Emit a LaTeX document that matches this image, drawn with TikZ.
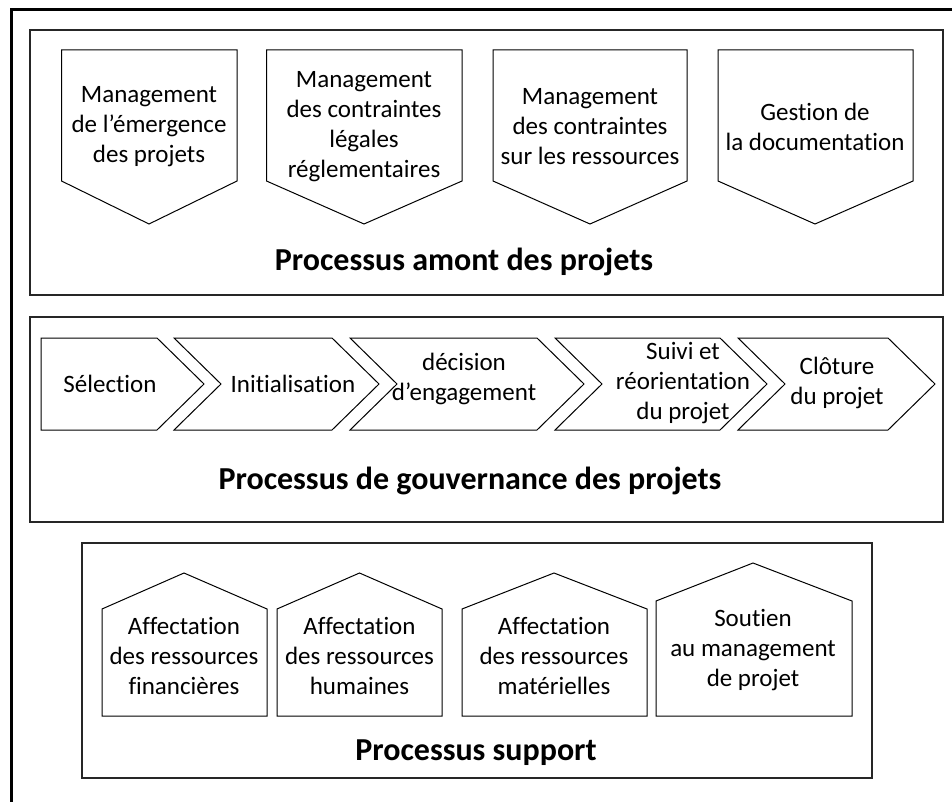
\documentclass[tikz,border=0pt]{standalone}
\usepackage{fontspec}
\setmainfont{Carlito}[Ligatures=NoCommon]
\usepackage{tikz}
\usetikzlibrary{positioning}

\begin{document}
\begin{tikzpicture}[
    x=0.5pt,y=-0.5pt,
    frame/.style={draw=black!85,line width=0.6pt},
    tag/.style={draw=black,line width=0.5pt,line join=miter},
    lbl/.style={align=center,inner sep=0pt,font=\fontsize{12.5}{15}\selectfont},
    ttl/.style={inner sep=0pt,font=\fontsize{16}{19}\selectfont\bfseries},
]
    \useasboundingbox (0,0) rectangle (952,802);
    % outer frame, cut at the page edge
    \draw[line width=1.5pt] (960,9.5) -- (11,9.5) -- (11,810);

    % --- processus amont
    \draw[frame] (30,30) rectangle (943,295);
    \draw[tag] (61.5,50) -- (237,50) -- (237,181) -- (149,224) -- (61.5,181) -- cycle;
    \draw[tag] (266.5,50) -- (462,50) -- (462,181) -- (364,224) -- (266.5,181) -- cycle;
    \draw[tag] (493,50) -- (687,50) -- (687,181) -- (590,224) -- (493,181) -- cycle;
    \draw[tag] (718,50) -- (913,50) -- (913,181) -- (815,224) -- (718,181) -- cycle;
    \node[lbl] (emerg) at (149,127) {Management\\de l’émergence\\des projets};
    \node[lbl] (legal) at (364,127) {Management\\des contraintes\\légales\\réglementaires};
    \node[lbl] (ressrc) at (590,127) {Management\\des contraintes\\sur les ressources};
    \node[lbl] (docu) at (815,127) {Gestion de\\la documentation};
    \node[ttl] (amont) at (464,262) {Processus amont des projets};

    % --- processus de gouvernance
    \draw[frame] (30,317) rectangle (943,522);
    \draw[tag] (41,338) -- (157,338) -- (204,384) -- (157,430) -- (41,430) -- cycle;
    \draw[tag] (174,338) -- (332,338) -- (379,384) -- (332,430) -- (174,430) -- (221,384) -- cycle;
    \draw[tag] (350,338) -- (537,338) -- (584,384) -- (537,430) -- (350,430) -- (397,384) -- cycle;
    \draw[tag] (555,338) -- (720,338) -- (767,384) -- (720,430) -- (555,430) -- (602,384) -- cycle;
    \draw[tag] (738,338) -- (888,338) -- (935,384) -- (888,430) -- (738,430) -- (785,384) -- cycle;
    \node[lbl] (sel) at (110,384) {Sélection};
    \node[lbl] (init) at (293,384) {Initialisation};
    \node[lbl] (decis) at (464,379) {décision\\d’engagement};
    \node[lbl] (suivi) at (683,383) {Suivi et\\réorientation\\du projet};
    \node[lbl] (clot) at (837,383) {Clôture\\du projet};
    \node[ttl] (gouv) at (470,481) {Processus de gouvernance des projets};

    % --- processus support
    \draw[frame] (82,543) rectangle (872,778);
    \draw[tag] (102,716) -- (102,609) -- (184,573) -- (267,609) -- (267,716) -- cycle;
    \draw[tag] (277,716) -- (277,609) -- (359.5,573) -- (442,609) -- (442,716) -- cycle;
    \draw[tag] (462,716) -- (462,609) -- (554,573) -- (647,609) -- (647,716) -- cycle;
    \draw[tag] (656,716) -- (656,601) -- (753,563) -- (852,601) -- (852,716) -- cycle;
    \node[lbl] (fin) at (184,656) {Affectation\\des ressources\\financières};
    \node[lbl] (hum) at (359.5,656) {Affectation\\des ressources\\humaines};
    \node[lbl] (mat) at (554,656) {Affectation\\des ressources\\matérielles};
    \node[lbl] (sout) at (753,650) {Soutien\\au management\\de projet};
    \node[ttl] (support) at (476,753) {Processus support};
\end{tikzpicture}
\end{document}
